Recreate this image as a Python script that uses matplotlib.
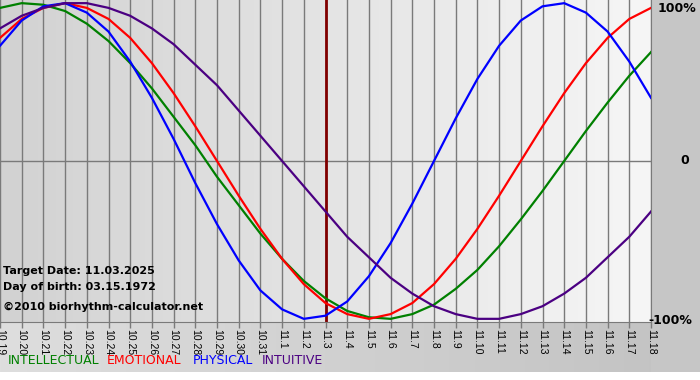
import matplotlib
matplotlib.use("Agg")
import matplotlib.pyplot as plt
import numpy as np
from matplotlib.colors import LinearSegmentedColormap

# days shown on the x axis
days = ["10.19", "10.20", "10.21", "10.22", "10.23", "10.24", "10.25", "10.26",
        "10.27", "10.28", "10.29", "10.30", "10.31", "11.1", "11.2", "11.3",
        "11.4", "11.5", "11.6", "11.7", "11.8", "11.9", "11.10", "11.11",
        "11.12", "11.13", "11.14", "11.15", "11.16", "11.17", "11.18"]
target_day = "11.3"

physical = [0.73, 0.89, 0.98, 1.00, 0.94, 0.82, 0.63, 0.40, 0.14, -0.14, -0.40,
            -0.63, -0.82, -0.94, -1.00, -0.98, -0.89, -0.73, -0.52, -0.27, 0.00,
            0.27, 0.52, 0.73, 0.89, 0.98, 1.00, 0.94, 0.82, 0.63, 0.40]
emotional = [0.78, 0.90, 0.97, 1.00, 0.97, 0.90, 0.78, 0.62, 0.43, 0.22, 0.00,
             -0.22, -0.43, -0.62, -0.78, -0.90, -0.97, -1.00, -0.97, -0.90, -0.78,
             -0.62, -0.43, -0.22, 0.00, 0.22, 0.43, 0.62, 0.78, 0.90, 0.97]
intellectual = [0.97, 1.00, 0.99, 0.95, 0.87, 0.76, 0.62, 0.46, 0.28, 0.10, -0.10,
                -0.28, -0.46, -0.62, -0.76, -0.87, -0.95, -0.99, -1.00, -0.97, -0.91,
                -0.81, -0.69, -0.54, -0.37, -0.19, 0.00, 0.19, 0.37, 0.54, 0.69]
intuitive = [0.84, 0.92, 0.97, 1.00, 1.00, 0.97, 0.92, 0.84, 0.74, 0.61, 0.48,
             0.32, 0.16, 0.00, -0.16, -0.32, -0.48, -0.61, -0.74, -0.84, -0.92,
             -0.97, -1.00, -1.00, -0.97, -0.92, -0.84, -0.74, -0.61, -0.48, -0.32]

series = [("INTELLECTUAL", intellectual, "#008000"),
          ("EMOTIONAL", emotional, "#ff0000"),
          ("PHYSICAL", physical, "#0000ff"),
          ("INTUITIVE", intuitive, "#4b0082")]
legend_x = [8, 107, 193, 262]

W, H = 700, 380
fig = plt.figure(figsize=(7, 3.8), dpi=100)

# background of the whole picture
bg = fig.add_axes([0, 0, 1, 1], zorder=-10)
bg.imshow(np.linspace(0, 1, 256).reshape(1, -1), aspect="auto", extent=[0, 1, 0, 1],
          cmap=LinearSegmentedColormap.from_list("g", ["#dedede", "#c2c2c2"]))
bg.axvspan(651 / W, 1, color="#c6c6c6", lw=0)
bg.axhspan(0, 8 / H, color="#ffffff", lw=0)
bg.set_xlim(0, 1)
bg.set_ylim(0, 1)
bg.axis("off")

ax = fig.add_axes([0, 1 - 322 / H, 651 / W, 322 / H])
x = np.arange(len(days))
ax.imshow(np.linspace(0, 1, 256).reshape(1, -1), aspect="auto",
          extent=[0, len(days) - 1, -1.02, 1.02], zorder=0,
          cmap=LinearSegmentedColormap.from_list("p", ["#d2d2d2", "#f6f6f6"]))

for xi in x:
    ax.axvline(xi, color="#7a7a7a", lw=1.0, zorder=1)
ax.axhline(0, color="#7a7a7a", lw=1.0, zorder=1)
ax.axvline(days.index(target_day), color="#800000", lw=2, zorder=1)

for name, vals, col in series:
    ax.plot(x, vals, color=col, lw=1.6, zorder=3)

ax.set_xlim(0, len(days) - 1)
ax.set_ylim(-1.02, 1.02)
ax.set_xticks(x)
ax.set_xticklabels(days, rotation=270, fontsize=7.5, family="Liberation Sans")
ax.tick_params(axis="x", length=4, width=1, color="#7a7a7a", pad=1)
ax.set_yticks([])
for s in ["left", "top"]:
    ax.spines[s].set_visible(False)
ax.spines["right"].set_color("#7a7a7a")
ax.spines["bottom"].set_color("#7a7a7a")

# y labels on the right
fig.text(658 / W, 1 - 8 / H, "100%", fontsize=9, fontweight="bold", va="center")
fig.text(680 / W, 1 - 161 / H, "0", fontsize=9, fontweight="bold", va="center")
fig.text(648 / W, 1 - 321 / H, "-100%", fontsize=9, fontweight="bold", va="center")

# info text
fig.text(3 / W, 1 - 271 / H, "Target Date: 11.03.2025", fontsize=8, fontweight="bold", va="center")
fig.text(3 / W, 1 - 287 / H, "Day of birth: 03.15.1972", fontsize=8, fontweight="bold", va="center")
fig.text(3 / W, 1 - 307 / H, "©2010 biorhythm-calculator.net", fontsize=8, fontweight="bold", va="center")

# legend row
for (name, vals, col), lx in zip(series, legend_x):
    fig.text(lx / W, 1 - 361 / H, name, fontsize=9, color=col, va="center")

fig.savefig("out.png", dpi=100)
